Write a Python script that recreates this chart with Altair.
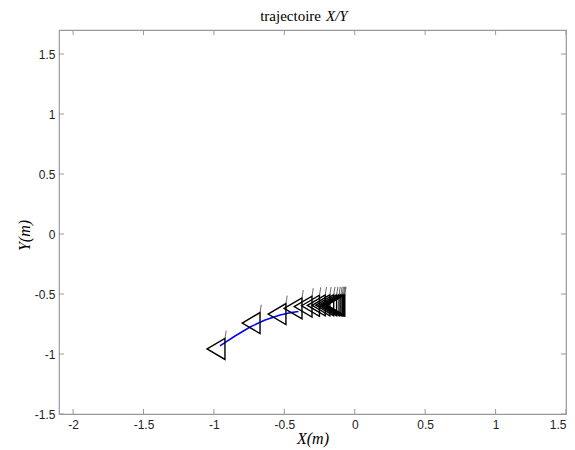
import altair as alt
import pandas as pd

# ---- data ----
path_x = [-0.957, -0.85, -0.743, -0.637, -0.53, -0.45, -0.40]
path_y = [-0.933, -0.85, -0.775, -0.717, -0.675, -0.655, -0.645]

pose_x = [-0.985, -0.736, -0.552, -0.438, -0.367, -0.314, -0.273, -0.240,
          -0.213, -0.192, -0.175, -0.162, -0.152, -0.144, -0.138, -0.134]
pose_y = [-0.958, -0.742, -0.667, -0.620, -0.605, -0.598, -0.595, -0.594,
          -0.593, -0.593, -0.593, -0.593, -0.593, -0.593, -0.593, -0.593]

x_ticks = [-2, -1.5, -1, -0.5, 0, 0.5, 1, 1.5]
y_ticks = [-1.5, -1, -0.5, 0, 0.5, 1, 1.5]
x_domain = [-2.1, 1.5]
y_domain = [-1.5, 1.7]
title_parts = ["trajectoire", "X/Y"]

W, H = 507, 384
FRAME = "#9a9a9a"

path_df = pd.DataFrame({"x": path_x, "y": path_y, "i": range(len(path_x))})
pose_df = pd.DataFrame({"x": pose_x, "y": pose_y})
xt_df = pd.DataFrame({"v": x_ticks})
yt_df = pd.DataFrame({"v": y_ticks})

xs = alt.Scale(domain=x_domain, nice=False, zero=False)
ys = alt.Scale(domain=y_domain, nice=False, zero=False)

xaxis = alt.Axis(values=x_ticks, domain=False, ticks=False, grid=False,
                 labelExpr="'' + datum.value", labelFont="Liberation Sans",
                 labelFontSize=12, labelColor="#222", labelPadding=5,
                 title="X(m)", titleFont="Liberation Serif", titleFontStyle="italic",
                 titleFontWeight="normal", titleFontSize=16, titleColor="#000",
                 titlePadding=0)
yaxis = alt.Axis(values=y_ticks, domain=False, ticks=False, grid=False,
                 labelExpr="'' + datum.value", labelFont="Liberation Sans",
                 labelFontSize=12, labelColor="#222", labelPadding=4,
                 title="Y(m)", titleFont="Liberation Serif", titleFontStyle="italic",
                 titleFontWeight="normal", titleFontSize=16, titleColor="#000",
                 titlePadding=2, titleY=205)

line = alt.Chart(path_df).mark_line(color="#0000ff", strokeWidth=1.5).encode(
    x=alt.X("x:Q", scale=xs, axis=xaxis),
    y=alt.Y("y:Q", scale=ys, axis=yaxis),
    order="i:Q",
)

tri = alt.Chart(pose_df).mark_point(
    shape="M-0.85,0L0.85,-1L0.85,1Z", filled=False, stroke="#000",
    strokeWidth=1.4, size=441, opacity=1,
).encode(x=alt.X("x:Q", scale=xs), y=alt.Y("y:Q", scale=ys))

wheel = alt.Chart(pose_df).mark_point(
    shape="M0.85,-1L0.97,-1.75", filled=False, stroke="#444",
    strokeWidth=0.8, size=441, opacity=1,
).encode(x=alt.X("x:Q", scale=xs), y=alt.Y("y:Q", scale=ys))

tick_style = dict(color=FRAME, strokeWidth=1)
xt_bot = alt.Chart(xt_df).mark_rule(**tick_style).encode(
    x=alt.X("v:Q", scale=xs), y=alt.value(H), y2=alt.value(H - 5))
xt_top = alt.Chart(xt_df).mark_rule(**tick_style).encode(
    x=alt.X("v:Q", scale=xs), y=alt.value(0), y2=alt.value(5))
yt_left = alt.Chart(yt_df).mark_rule(**tick_style).encode(
    y=alt.Y("v:Q", scale=ys), x=alt.value(0), x2=alt.value(5))
yt_right = alt.Chart(yt_df).mark_rule(**tick_style).encode(
    y=alt.Y("v:Q", scale=ys), x=alt.value(W), x2=alt.value(W - 5))

t1 = alt.Chart(pd.DataFrame({"t": [title_parts[0]]})).mark_text(
    align="right", baseline="alphabetic", font="Liberation Serif",
    fontSize=15, color="#000").encode(
    text="t:N", x=alt.value(262), y=alt.value(-9))
t2 = alt.Chart(pd.DataFrame({"t": [title_parts[1]]})).mark_text(
    align="left", baseline="alphabetic", font="Liberation Serif",
    fontStyle="italic", fontSize=15, color="#000").encode(
    text="t:N", x=alt.value(267), y=alt.value(-9))

chart = alt.layer(
    xt_bot, xt_top, yt_left, yt_right, line, tri, wheel, t1, t2
).properties(
    width=W, height=H,
    autosize=alt.AutoSizeParams(type="none"),
    padding={"left": 51, "top": 22, "right": 1, "bottom": 40},
    background="white",
).configure_view(stroke=FRAME, strokeWidth=1.2)

chart.save("out.html", embed_options={"renderer": "svg", "actions": False})
